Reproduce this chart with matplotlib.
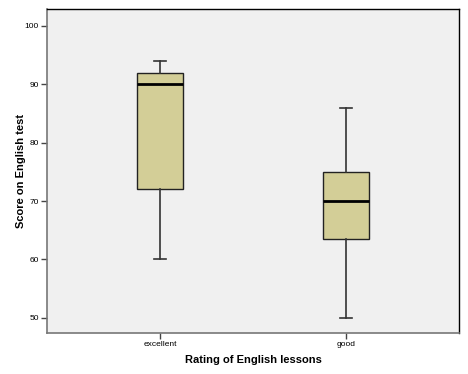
import matplotlib
matplotlib.use("Agg")
import matplotlib.pyplot as plt

plt.rcParams['font.family'] = ['Liberation Sans', 'DejaVu Sans']

categories = ['excellent', 'good']
whislo = [60, 50]
q1 = [72, 63.5]
med = [90, 70]
q3 = [92, 75]
whishi = [94, 86]

stats = []
for i in range(len(categories)):
    stats.append({'label': categories[i], 'whislo': whislo[i], 'q1': q1[i],
                  'med': med[i], 'q3': q3[i], 'whishi': whishi[i], 'fliers': []})

fig = plt.figure(figsize=(4.68, 3.74), dpi=100)
ax = fig.add_axes([47 / 468, 41 / 374, 412 / 468, 324 / 374])
ax.set_facecolor('#F0F0F0')

ax.bxp(stats, positions=[1, 2], widths=0.25, capwidths=0.065, showfliers=False,
       patch_artist=True,
       boxprops=dict(facecolor='#D3CE97', edgecolor='#222222', linewidth=1.0),
       medianprops=dict(color='black', linewidth=2.0),
       whiskerprops=dict(color='#333333', linewidth=1.2),
       capprops=dict(color='#333333', linewidth=1.2))

ax.set_xlim(0.39, 2.61)
ax.set_ylim(47.4, 102.9)
ax.set_yticks([50, 60, 70, 80, 90, 100])
ax.set_xticks([1, 2])
ax.set_xticklabels(categories)
ax.tick_params(labelsize=6, length=4, width=1, color='#444444', pad=2)

for s in ['left', 'bottom']:
    ax.spines[s].set_color('#777777')
    ax.spines[s].set_linewidth(1.2)
for s in ['top', 'right']:
    ax.spines[s].set_color('black')
    ax.spines[s].set_linewidth(1.0)

ax.set_xlabel('Rating of English lessons', fontsize=8, fontweight='bold')
ax.set_ylabel('Score on English test', fontsize=8, fontweight='bold')
ax.yaxis.set_label_coords(-0.052, 0.5)
ax.xaxis.set_label_coords(0.5, -0.067)

fig.savefig('out.png', dpi=100, facecolor='white')
